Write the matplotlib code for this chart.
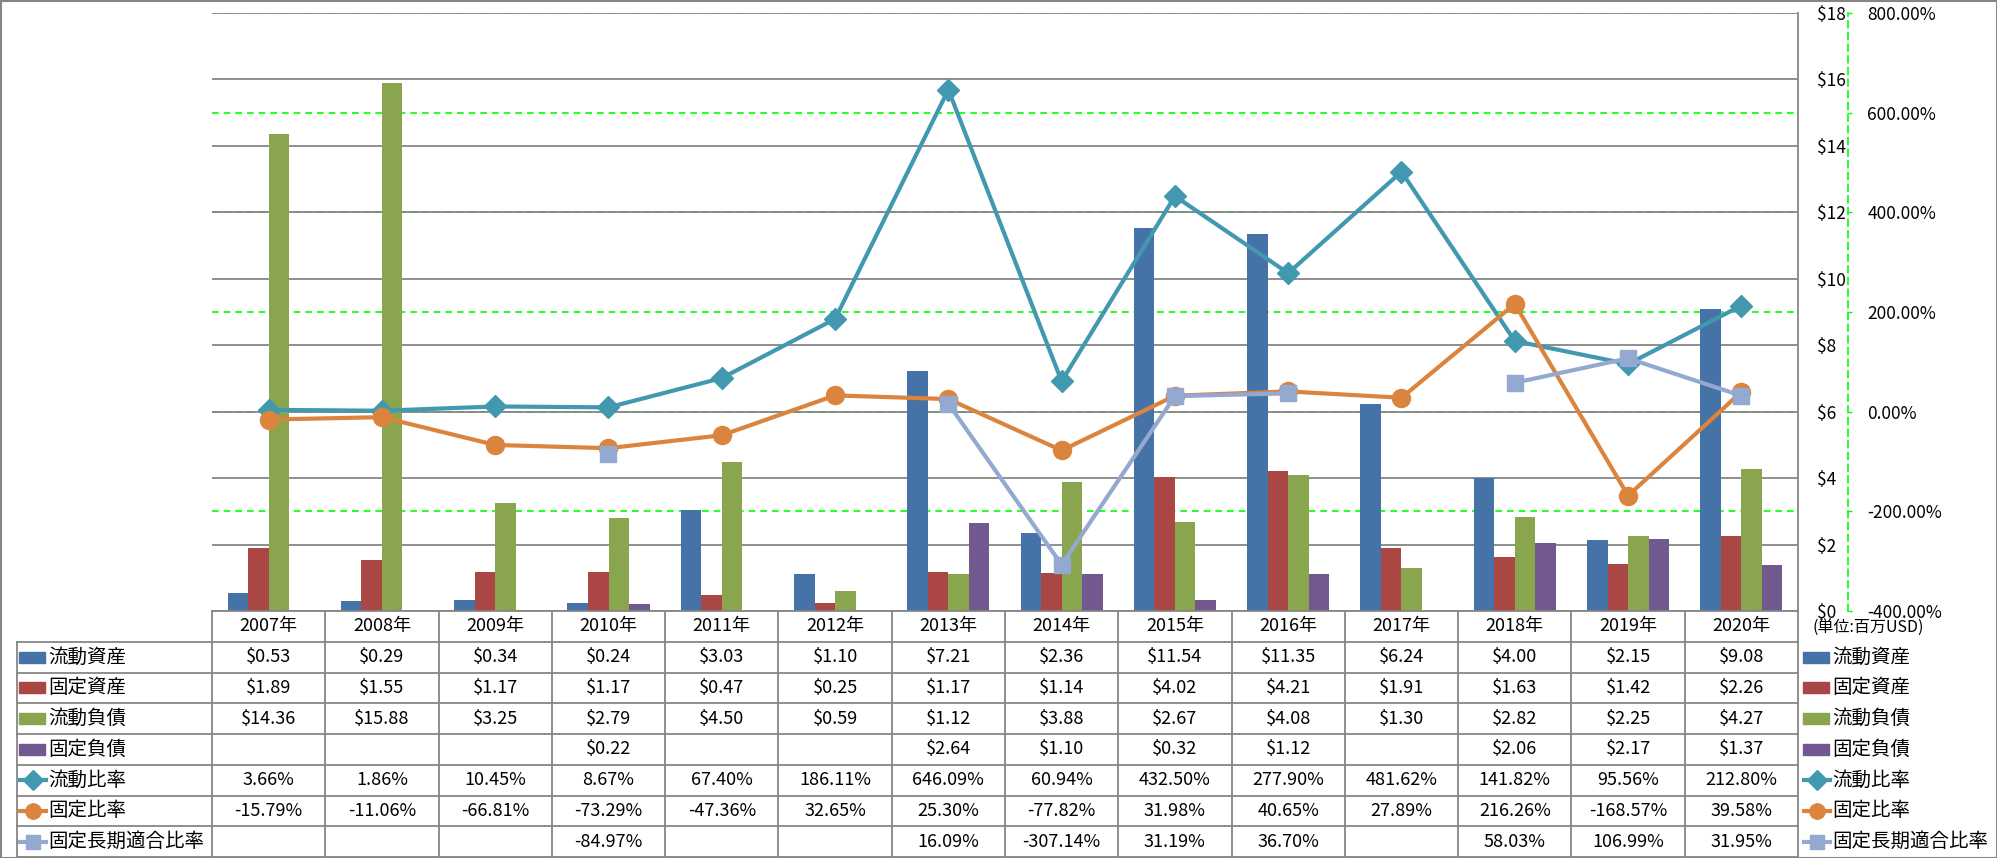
import numpy as np
import matplotlib.pyplot as plt
import matplotlib.transforms as mtransforms
from matplotlib.patches import Rectangle

plt.rcParams['font.family'] = ['Noto Sans CJK JP', 'DejaVu Sans']

nan = np.nan
years = ['2007年', '2008年', '2009年', '2010年', '2011年', '2012年', '2013年',
         '2014年', '2015年', '2016年', '2017年', '2018年', '2019年', '2020年']

# bars, million USD
current_assets = [0.53, 0.29, 0.34, 0.24, 3.03, 1.10, 7.21, 2.36, 11.54, 11.35, 6.24, 4.00, 2.15, 9.08]
fixed_assets = [1.89, 1.55, 1.17, 1.17, 0.47, 0.25, 1.17, 1.14, 4.02, 4.21, 1.91, 1.63, 1.42, 2.26]
current_liab = [14.36, 15.88, 3.25, 2.79, 4.50, 0.59, 1.12, 3.88, 2.67, 4.08, 1.30, 2.82, 2.25, 4.27]
fixed_liab = [nan, nan, nan, 0.22, nan, nan, 2.64, 1.10, 0.32, 1.12, nan, 2.06, 2.17, 1.37]

# lines, percent
current_ratio = [3.66, 1.86, 10.45, 8.67, 67.40, 186.11, 646.09, 60.94, 432.50, 277.90, 481.62, 141.82, 95.56, 212.80]
fixed_ratio = [-15.79, -11.06, -66.81, -73.29, -47.36, 32.65, 25.30, -77.82, 31.98, 40.65, 27.89, 216.26, -168.57, 39.58]
fixed_lt_ratio = [nan, nan, nan, -84.97, nan, nan, 16.09, -307.14, 31.19, 36.70, nan, 58.03, 106.99, 31.95]

bar_names = ['流動資産', '固定資産', '流動負債', '固定負債']
line_names = ['流動比率', '固定比率', '固定長期適合比率']
bar_data = [current_assets, fixed_assets, current_liab, fixed_liab]
line_data = [current_ratio, fixed_ratio, fixed_lt_ratio]
bar_colors = ['#4572A7', '#AA4643', '#89A54E', '#71588F']
line_colors = ['#4198AF', '#DB843D', '#93A9CF']
markers = ['D', 'o', 's']
msizes = [11.5, 13, 12]

grid_gray = '#868686'
lime = '#00FF00'

W, H = 1997, 858
fig = plt.figure(figsize=(W / 100, H / 100), dpi=100)


def box(x0, y0, x1, y1):
    return [x0 / W, 1 - y1 / H, (x1 - x0) / W, (y1 - y0) / H]


ax = fig.add_axes(box(212, 13, 1798, 611))
ax2 = ax.twinx()
tab = fig.add_axes(box(212, 611, 1798, 857))

x = np.arange(len(years))
bw = 0.181

for i, (vals, c) in enumerate(zip(bar_data, bar_colors)):
    ax.bar(x + (i - 1.5) * bw, np.array(vals, dtype=float), bw, color=c, zorder=2)

for vals, c, m, ms in zip(line_data, line_colors, markers, msizes):
    ax2.plot(x, np.array(vals, dtype=float), color=c, lw=3, marker=m, ms=ms,
             mec=c, mew=1, zorder=3)

ax.set_xlim(-0.5, 13.5)
ax.set_ylim(0, 18)
ax2.set_ylim(-400, 800)
ax.set_xticks([])
ax2.set_xticks([])

# primary axis (labels on the right)
ax.yaxis.tick_right()
ax.set_yticks(np.arange(0, 19, 2))
ax.set_yticklabels([f'${v:g}' for v in np.arange(0, 19, 2)])
ax.tick_params(axis='y', length=0, pad=13.5, labelsize=12.5)
ax.yaxis.grid(True, color=grid_gray, lw=1.3)
ax.set_axisbelow(True)
for s in ['left', 'top', 'bottom']:
    ax.spines[s].set_visible(False)
ax.spines['right'].set_color(grid_gray)
ax.spines['right'].set_linewidth(1.3)

# secondary axis
pct_ticks = np.arange(-400, 801, 200)
ax2.set_yticks(pct_ticks)
ax2.set_yticklabels([f'{v:.2f}%' for v in pct_ticks])
for lab, v in zip(ax2.get_yticklabels(), pct_ticks):
    lab.set_color('#FF0000' if v < 0 else 'black')
ax2.tick_params(axis='y', length=3, width=1, color=lime, pad=11, labelsize=12.5)
for s in ['left', 'top', 'bottom']:
    ax2.spines[s].set_visible(False)
ax2.spines['right'].set_position(('outward', 36))
ax2.spines['right'].set_color(lime)
ax2.spines['right'].set_linestyle((0, (4, 3)))
ax2.spines['right'].set_linewidth(1.2)

# secondary gridlines behind the bars
blend = mtransforms.blended_transform_factory(ax.transAxes, ax2.transData)
for v in pct_ticks:
    ax.plot([0, 1], [v, v], transform=blend, color=lime, lw=1.2,
            ls=(0, (4, 3)), zorder=0.4, scalex=False, scaley=False)

# data table
tab.set_xlim(-0.5, 13.5)
tab.set_ylim(8, 0)
tab.axis('off')
cw = 1586 / 14
px_x = 1 / cw
px_y = 1 / 30.75
x_l = -0.5 - (212 - 17) * px_x
lk = dict(color=grid_gray, lw=1.3, clip_on=False)

tab.plot([-0.5, 13.5], [0, 0], **lk)
for k in range(1, 9):
    tab.plot([x_l, 13.5], [k, k], **lk)
for k in range(15):
    tab.plot([k - 0.5, k - 0.5], [0, 8], **lk)
tab.plot([x_l, x_l], [1, 8], **lk)

for i, y in enumerate(years):
    tab.text(i, 0.5, y, ha='center', va='center', fontsize=13)

rows = []
for vals in bar_data:
    rows.append(['' if np.isnan(v) else f'${v:.2f}' for v in vals])
for vals in line_data:
    rows.append(['' if np.isnan(v) else f'{v:.2f}%' for v in vals])

for r, row in enumerate(rows):
    for i, s in enumerate(row):
        tab.text(i, r + 1.5, s, ha='center', va='center', fontsize=13)


def legend_key(x0, r, kind, idx):
    yc = r + 1.5
    if kind == 'bar':
        tab.add_patch(Rectangle((x0 + 2 * px_x, yc - 5.5 * px_y), 26 * px_x, 11 * px_y,
                                color=bar_colors[idx], clip_on=False))
    else:
        c = line_colors[idx]
        tab.plot([x0 + 1 * px_x, x0 + 31 * px_x], [yc, yc], color=c, lw=3,
                 solid_capstyle='butt', clip_on=False)
        tab.plot([x0 + 16 * px_x], [yc], color=c, marker=markers[idx],
                 ms=msizes[idx] * 0.85, mec=c, clip_on=False)


names = bar_names + line_names
for r, name in enumerate(names):
    kind = 'bar' if r < 4 else 'line'
    idx = r if r < 4 else r - 4
    # left column
    legend_key(x_l, r, kind, idx)
    tab.text(x_l + 31 * px_x, r + 1.5, name, ha='left', va='center', fontsize=14)
    # right side legend
    legend_key(13.5 + 3 * px_x, r, kind, idx)
    tab.text(13.5 + 34 * px_x, r + 1.5, name, ha='left', va='center', fontsize=14)

tab.text(13.5 + 14 * px_x, 0.55, '(単位:百万USD)', ha='left', va='center', fontsize=11.5)

fig.add_artist(Rectangle((0.5 / W, 0.5 / H), (W - 1) / W, (H - 1) / H,
                         transform=fig.transFigure, fill=False, ec=grid_gray, lw=1.5))

fig.savefig('out.png', dpi=100, facecolor='white')
